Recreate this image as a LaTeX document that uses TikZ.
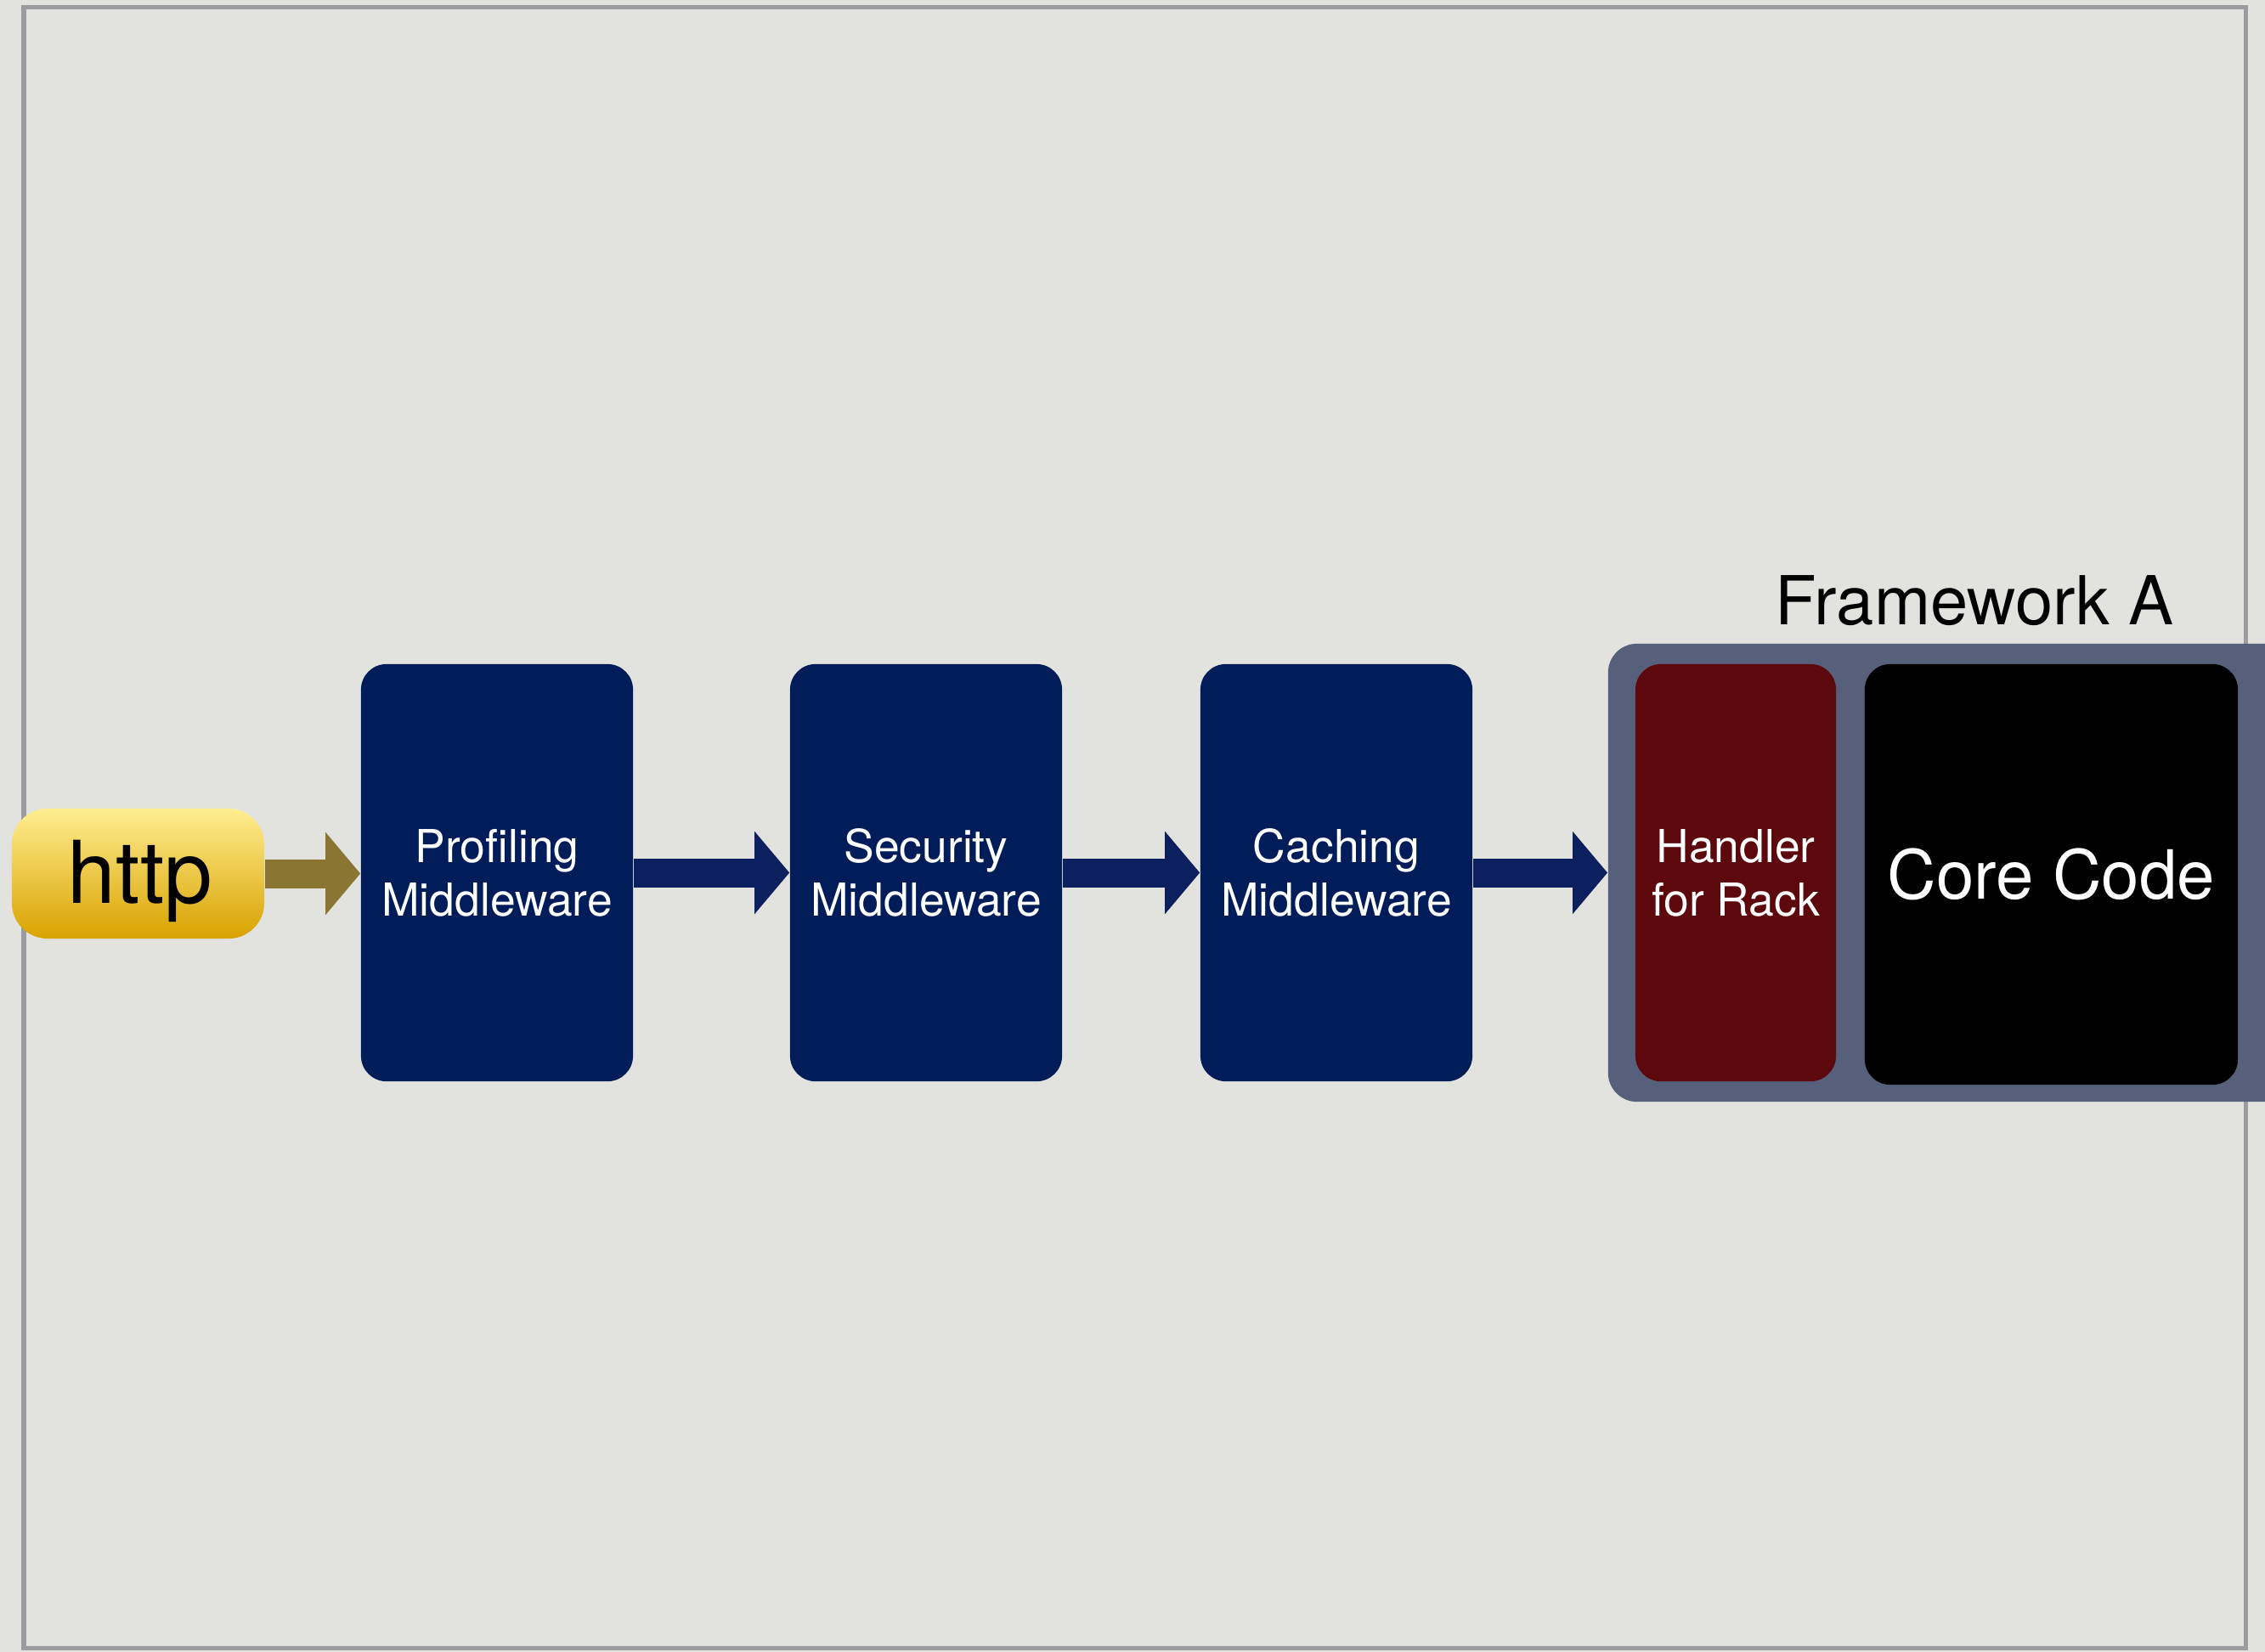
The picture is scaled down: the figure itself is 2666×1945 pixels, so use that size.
\documentclass[tikz,border=0pt]{standalone}
\usepackage{fontspec}
\setmainfont{TeX Gyre Heros}
\usetikzlibrary{arrows.meta}
\definecolor{bg}{RGB}{226,227,222}
\definecolor{framegray}{RGB}{155,155,160}
\definecolor{navy}{RGB}{1,29,89}
\definecolor{navyarrow}{RGB}{12,31,94}
\definecolor{olivearrow}{RGB}{138,118,50}
\definecolor{httptop}{RGB}{255,238,144}
\definecolor{httpbot}{RGB}{217,162,0}
\definecolor{handlerred}{RGB}{92,8,12}
\definecolor{slate}{RGB}{86,96,122}
\tikzset{
  midbox/.style={fill=navy, rounded corners=0.3cm, minimum width=3.2cm, minimum height=4.91cm,
    text=white, align=center, inner sep=0pt, font=\fontsize{15.2}{17.9}\selectfont},
  flowarrow/.style={line width=0.34cm, -{Triangle[length=0.41cm,width=0.95cm]}},
}
\begin{document}
\begin{tikzpicture}[x=0.01cm,y=-0.01cm]
\fill[bg] (0,0) rectangle (2666,1945);
\useasboundingbox (0,0) rectangle (2666,1945);
\clip (0,0) rectangle (2666,1945);
\draw[framegray, line width=0.05cm] (28,8) rectangle (2643,1940);

\node[rounded corners=0.42cm, top color=httptop, bottom color=httpbot,
  minimum width=2.97cm, minimum height=1.53cm, inner sep=0pt,
  font=\fontsize{29}{30}\selectfont] (http) at (162.5,1028.5)
  {\hspace{0.05cm}\raisebox{-0.09cm}[\height][\depth]{http}};

\node[midbox] (prof) at (585,1027.5) {Profiling\\Middleware};
\node[midbox] (sec) at (1090,1027.5) {Security\\Middleware};
\node[midbox] (cach) at (1573,1027.5) {Caching\\Middleware};

\node[fill=slate, rounded corners=0.34cm, minimum width=8.07cm, minimum height=5.39cm, inner sep=0pt]
  (fw) at (2296.5,1027.5) {};
\node[fill=handlerred, rounded corners=0.3cm, minimum width=2.36cm, minimum height=4.91cm,
  text=white, align=center, inner sep=0pt, font=\fontsize{15.2}{17.9}\selectfont]
  (hand) at (2043,1027.5) {Handler\\for Rack};
\node[fill=black, rounded corners=0.3cm, minimum width=4.39cm, minimum height=4.95cm,
  text=white, inner sep=0pt, font=\fontsize{22.7}{26}\selectfont]
  (core) at (2414.5,1029.5) {Core Code};
\node[inner sep=0pt, font=\fontsize{22.6}{26}\selectfont] (fwlabel) at (2324,707) {Framework A};

\draw[flowarrow, olivearrow] (http.east) -- (http.east -| prof.west);
\draw[flowarrow, navyarrow] (prof.east) -- (sec.west);
\draw[flowarrow, navyarrow] (sec.east) -- (cach.west);
\draw[flowarrow, navyarrow] (cach.east) -- (cach.east -| fw.west);
\end{tikzpicture}
\end{document}
